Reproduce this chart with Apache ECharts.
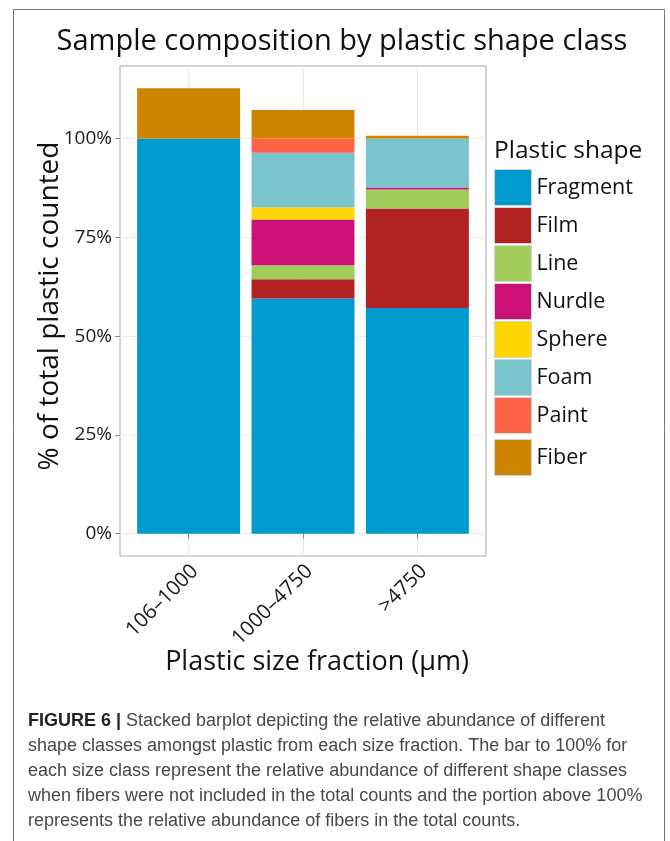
<!DOCTYPE html>
<html>
<head>
<meta charset="utf-8">
<script src="https://cdn.jsdelivr.net/npm/echarts@6/dist/echarts.min.js"></script>
<style>
  html, body { margin: 0; padding: 0; background: #ffffff; }
  #chart { width: 670px; height: 841px; }
</style>
</head>
<body>
<div id="chart"></div>
<script>
// Size fractions (x categories)
const sizeClasses = ['106–1000', '1000–4750', '>4750'];

// Shape classes, bottom of the stack first
const shapeNames = ['Fragment', 'Film', 'Line', 'Nurdle', 'Sphere', 'Foam', 'Paint', 'Fiber'];

// Percent of total plastic counted, one value per size fraction
const fragment = [100, 59.5, 57.1];
const film     = [0, 4.9, 25.2];
const line     = [0, 3.5, 4.8];
const nurdle   = [0, 11.6, 0.5];
const sphere   = [0, 3.1, 0];
const foam     = [0, 13.8, 12.4];
const paint    = [0, 3.6, 0];
const fiber    = [12.7, 7.2, 0.7];

// Y tick values (percent)
const yTicks = [0, 25, 50, 75, 100];

const shapeValues = [fragment, film, line, nurdle, sphere, foam, paint, fiber];
const shapeColors = ['#009ACD', '#B22222', '#A2CD5A', '#CD1076', '#FFD700', '#7AC5CD', '#FF6347', '#CD8500'];

const FONT = '"Open Sans", "Noto Sans", sans-serif';

// Panel geometry: discrete axis padded by 0.6 of a category step on each side
const panel = { left: 120, top: 66, width: 366, height: 490 };
const xPad = 0.6;
const step = panel.width / (sizeClasses.length - 1 + 2 * xPad);

// Y limits with a 5% expansion around the tallest stack
const totals = sizeClasses.map((_, j) => shapeValues.reduce((s, arr) => s + arr[j], 0));
const yTop = Math.max(...totals);
const yPad = 0.05 * yTop;
const yMin = -yPad;
const yMax = yTop + yPad;

const xTickValues = sizeClasses.map((_, j) => j + 1);
const labelShift = 0.055; // rotated labels hang slightly right of their tick

const chart = echarts.init(document.getElementById('chart'), null, { renderer: 'canvas' });

const legendCommon = {
  orient: 'vertical',
  left: 494,
  itemWidth: 37,
  itemHeight: 36,
  itemGap: 1,
  padding: 0,
  icon: 'rect',
  selectedMode: false,
  itemStyle: { borderColor: '#d4d4d4', borderWidth: 1 },
  textStyle: { fontFamily: FONT, fontSize: 21.5, color: '#111111' }
};

const captionText =
  '{b|FIGURE 6 |} Stacked barplot depicting the relative abundance of different\n' +
  'shape classes amongst plastic from each size fraction. The bar to 100% for\n' +
  'each size class represent the relative abundance of different shape classes\n' +
  'when fibers were not included in the total counts and the portion above 100%\n' +
  'represents the relative abundance of fibers in the total counts.';

chart.setOption({
  animation: false,
  backgroundColor: '#ffffff',
  grid: [
    // panel: border, grid lines, ticks and labels
    Object.assign({ show: true, borderColor: '#a8a8a8', borderWidth: 1, backgroundColor: '#ffffff' }, panel),
    // bars: one category band per size fraction
    {
      left: panel.left + (xPad - 0.5) * step,
      top: panel.top,
      width: step * sizeClasses.length,
      height: panel.height,
      show: false
    }
  ],
  xAxis: [
    {
      gridIndex: 0,
      type: 'value',
      min: 1 - xPad,
      max: sizeClasses.length + xPad,
      axisLine: { show: false },
      axisTick: { show: true, length: 5, customValues: xTickValues, lineStyle: { color: '#8c8c8c' } },
      axisLabel: {
        customValues: xTickValues.map(v => v + labelShift),
        formatter: v => sizeClasses[Math.round(v) - 1],
        rotate: 45,
        margin: 12,
        fontFamily: FONT,
        fontSize: 20.5,
        color: '#1a1a1a'
      },
      splitLine: { show: true, lineStyle: { color: '#ebebeb', width: 1 } }
    },
    {
      gridIndex: 1,
      type: 'category',
      data: sizeClasses,
      show: false
    }
  ],
  yAxis: [
    {
      gridIndex: 0,
      type: 'value',
      min: yMin,
      max: yMax,
      axisLine: { show: false },
      axisTick: { show: true, length: 5, customValues: yTicks, lineStyle: { color: '#8c8c8c' } },
      axisLabel: {
        customValues: yTicks,
        formatter: '{value}%',
        margin: 8,
        fontFamily: FONT,
        fontSize: 19,
        color: '#1a1a1a'
      },
      splitLine: { show: true, lineStyle: { color: '#ebebeb', width: 1 } }
    },
    {
      gridIndex: 1,
      type: 'value',
      min: yMin,
      max: yMax,
      show: false
    }
  ],
  legend: [
    Object.assign({}, legendCommon, { top: 169, data: shapeNames.slice(0, 7) }),
    Object.assign({}, legendCommon, { top: 439, data: shapeNames.slice(7) })
  ],
  series: shapeNames.map((name, i) => ({
    name: name,
    type: 'bar',
    xAxisIndex: 1,
    yAxisIndex: 1,
    stack: 'shape',
    barCategoryGap: '10%',
    itemStyle: { color: shapeColors[i] },
    emphasis: { disabled: true },
    data: shapeValues[i]
  })),
  graphic: [
    {
      type: 'rect', silent: true, z: -1,
      shape: { x: 13.5, y: 9.5, width: 651, height: 900 },
      style: { fill: 'none', stroke: '#777777', lineWidth: 1 }
    },
    {
      type: 'text', silent: true,
      x: 342, y: 42,
      style: { text: 'Sample composition by plastic shape class', fontFamily: FONT, fontSize: 29, fill: '#111111', align: 'center', verticalAlign: 'middle' }
    },
    {
      type: 'text', silent: true,
      x: 50, y: 306, rotation: Math.PI / 2,
      style: { text: '% of total plastic counted', fontFamily: FONT, fontSize: 28, fill: '#111111', align: 'center', verticalAlign: 'middle' }
    },
    {
      type: 'text', silent: true,
      x: 317, y: 662,
      style: { text: 'Plastic size fraction (µm)', fontFamily: FONT, fontSize: 27, fill: '#111111', align: 'center', verticalAlign: 'middle' }
    },
    {
      type: 'text', silent: true,
      x: 494, y: 151,
      style: { text: 'Plastic shape', fontFamily: FONT, fontSize: 24.5, fill: '#111111', align: 'left', verticalAlign: 'middle' }
    },
    {
      type: 'text', silent: true,
      x: 28, y: 709,
      style: {
        text: captionText,
        fontFamily: '"Liberation Sans", Arial, sans-serif',
        fontSize: 18,
        lineHeight: 25,
        fill: '#484848',
        align: 'left',
        verticalAlign: 'top',
        rich: {
          b: { fontFamily: '"Liberation Sans", Arial, sans-serif', fontWeight: 'bold', fontSize: 18, lineHeight: 25, fill: '#222222' }
        }
      }
    }
  ]
});
</script>
</body>
</html>
